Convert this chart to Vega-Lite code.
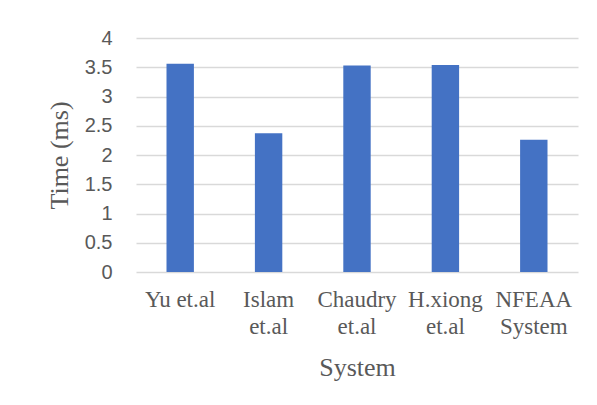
{
  "$schema": "https://vega.github.io/schema/vega-lite/v6.json",
  "width": 442,
  "height": 234,
  "autosize": "none",
  "padding": {"left": 136, "top": 38, "right": 19, "bottom": 133},
  "background": "white",
  "config": {"view": {"stroke": null}},
  "data": {
    "values": [
      {"System": "Yu et.al", "Time": 3.56},
      {"System": "Islam et.al", "Time": 2.37},
      {"System": "Chaudry et.al", "Time": 3.53},
      {"System": "H.xiong et.al", "Time": 3.54},
      {"System": "NFEAA System", "Time": 2.26}
    ]
  },
  "mark": {"type": "bar", "color": "#4472C4"},
  "encoding": {
    "x": {
      "field": "System",
      "type": "nominal",
      "sort": null,
      "scale": {"paddingInner": 0.69, "paddingOuter": 0.345},
      "axis": {
        "labelAngle": 0,
        "labelFont": "Liberation Serif",
        "labelFontSize": 23,
        "labelColor": "#595959",
        "labelLineHeight": 27,
        "labelPadding": 16,
        "labelExpr": "datum.label == 'Yu et.al' ? datum.label : split(datum.label, ' ')",
        "ticks": false,
        "domain": false,
        "title": "System",
        "titleFont": "Liberation Serif",
        "titleFontSize": 26,
        "titleFontWeight": "normal",
        "titleColor": "#595959",
        "titlePadding": 16
      }
    },
    "y": {
      "field": "Time",
      "type": "quantitative",
      "scale": {"domain": [0, 4]},
      "axis": {
        "values": [0, 0.5, 1, 1.5, 2, 2.5, 3, 3.5, 4],
        "format": "~g",
        "labelFont": "Liberation Sans",
        "labelFontSize": 20,
        "labelColor": "#595959",
        "labelPadding": 24,
        "ticks": false,
        "domain": false,
        "grid": true,
        "gridColor": "#d9d9d9",
        "gridWidth": 1.3,
        "title": "Time (ms)",
        "titleFont": "Liberation Serif",
        "titleFontSize": 26,
        "titleFontWeight": "normal",
        "titleColor": "#595959",
        "titlePadding": 12
      }
    }
  }
}
